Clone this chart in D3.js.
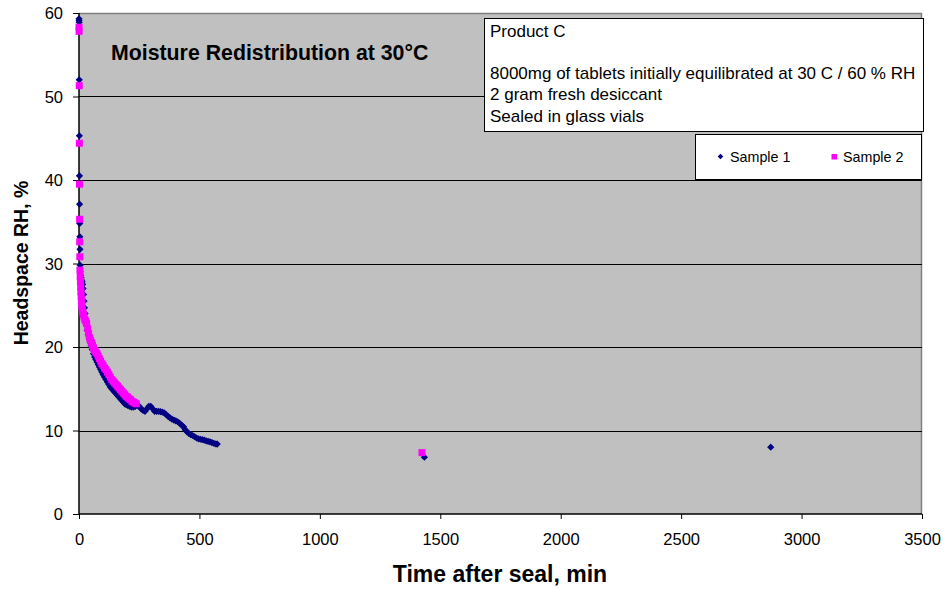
<!DOCTYPE html>
<html>
<head>
<meta charset="utf-8">
<script src="https://cdn.jsdelivr.net/npm/d3@7"></script>
<style>
  body { margin: 0; background: #fff; }
  svg text { font-family: "Liberation Sans", Arial, sans-serif; }
</style>
</head>
<body>
<svg id="chart" width="946" height="589"></svg>
<script>
// ---------- DATA ----------
const xTicks = [0, 500, 1000, 1500, 2000, 2500, 3000, 3500];
const yTicks = [0, 10, 20, 30, 40, 50, 60];
const gridValues = [10, 20, 30, 40, 50];

const seriesNames = ["Sample 1", "Sample 2"];

const sample1Time = [0, 0.3, 0.6, 1, 1.5, 2, 2.5, 3, 3.5, 4, 4.5, 5, 7, 9, 11, 13, 15, 17, 19, 21, 23, 25, 28, 31, 34, 38, 42, 46, 50, 55, 60, 65, 70, 75, 80, 85, 90, 95, 100, 106, 112, 118, 124, 130, 136, 142, 148, 154, 160, 166, 172, 178, 184, 190, 196, 202, 210, 218, 226, 234, 242, 250, 258, 266, 274, 282, 290, 298, 306, 314, 322, 330, 338, 346, 354, 362, 370, 378, 386, 394, 402, 410, 418, 426, 434, 441, 448, 456, 464, 472, 480, 488, 496, 504, 512, 520, 528, 536, 544, 552, 560, 568, 574, 1434, 2872];
const sample1RH = [59.3, 59.1, 58.9, 52.0, 45.3, 40.5, 37.1, 34.8, 33.2, 31.7, 29.8, 29.0, 28.6, 28.3, 28.0, 27.8, 27.5, 27.0, 26.3, 25.5, 24.7, 24.0, 23.2, 22.6, 22.0, 21.5, 21.0, 20.6, 20.2, 19.7, 19.2, 18.8, 18.5, 18.2, 17.9, 17.6, 17.3, 17.0, 16.7, 16.4, 16.1, 15.8, 15.5, 15.2, 15.0, 14.8, 14.6, 14.4, 14.2, 14.0, 13.8, 13.6, 13.4, 13.2, 13.1, 13.0, 12.9, 12.8, 12.8, 12.9, 13.0, 12.9, 12.6, 12.4, 12.3, 12.6, 12.9, 12.9, 12.6, 12.3, 12.3, 12.3, 12.25, 12.2, 12.1, 11.9, 11.7, 11.5, 11.35, 11.25, 11.15, 11.05, 10.85, 10.65, 10.45, 10.1, 9.85, 9.65, 9.5, 9.4, 9.25, 9.1, 9.0, 8.95, 8.9, 8.85, 8.75, 8.7, 8.65, 8.55, 8.45, 8.4, 8.38, 6.8, 8.0];

const sample2Time = [0, 0.4, 1, 1.5, 2, 2.5, 3, 3.5, 4, 5, 6, 7, 8, 9, 10, 11, 12, 14, 16, 18, 21, 24, 28, 32, 36, 40, 44, 48, 52, 56, 60, 65, 70, 75, 80, 85, 90, 95, 100, 106, 112, 118, 124, 130, 136, 142, 148, 154, 160, 166, 172, 178, 184, 190, 196, 202, 208, 214, 220, 226, 232, 238, 1424];
const sample2RH = [58.3, 57.8, 51.3, 44.4, 39.5, 35.3, 32.6, 30.8, 29.2, 28.4, 27.8, 27.2, 26.6, 26.1, 25.6, 25.2, 24.8, 24.4, 24.1, 23.9, 23.6, 23.3, 23.1, 22.8, 22.2, 21.6, 21.1, 20.8, 20.5, 20.2, 19.9, 19.6, 19.4, 19.2, 18.9, 18.6, 18.3, 18.0, 17.8, 17.5, 17.3, 17.0, 16.7, 16.4, 16.1, 15.9, 15.7, 15.5, 15.3, 15.1, 14.9, 14.7, 14.5, 14.3, 14.1, 14.0, 13.8, 13.7, 13.5, 13.4, 13.3, 13.2, 7.35];

const titleText = "Moisture Redistribution at 30°C";
const noteLines = ["Product C", "", "8000mg of tablets initially equilibrated at 30 C / 60 % RH", "2 gram fresh desiccant", "Sealed in glass vials"];
const xAxisTitle = "Time after seal, min";
const yAxisTitle = "Headspace RH, %";

// ---------- CHART ----------
const svg = d3.select("#chart");
const plot = { left: 79, right: 922, top: 13, bottom: 514 };

const x = d3.scaleLinear().domain([0, 3500]).range([plot.left, plot.right]);
const y = d3.scaleLinear().domain([0, 60]).range([plot.bottom, plot.top]);

// plot background
svg.append("rect")
  .attr("x", plot.left).attr("y", plot.top)
  .attr("width", plot.right - plot.left).attr("height", plot.bottom - plot.top)
  .attr("fill", "#C0C0C0");

// top & right border (grey)
svg.append("path")
  .attr("d", `M${plot.left},${plot.top + 0.5}H${plot.right - 0.5}V${plot.bottom}`)
  .attr("fill", "none").attr("stroke", "#808080").attr("stroke-width", 1.5);

// gridlines
svg.append("g").selectAll("line").data(gridValues).join("line")
  .attr("x1", plot.left).attr("x2", plot.right)
  .attr("y1", d => Math.round(y(d)) + 0.5).attr("y2", d => Math.round(y(d)) + 0.5)
  .attr("stroke", "#000").attr("stroke-width", 1);

// axes
const xAxis = svg.append("g")
  .attr("transform", `translate(0,${plot.bottom})`)
  .call(d3.axisBottom(x).tickValues(xTicks).tickFormat(d3.format("d")).tickSize(5).tickPadding(14));
const yAxis = svg.append("g")
  .attr("transform", `translate(${plot.left},0)`)
  .call(d3.axisLeft(y).tickValues(yTicks).tickFormat(d3.format("d")).tickSize(6).tickPadding(10));

[xAxis, yAxis].forEach(g => {
  g.select(".domain").attr("stroke", "#000").attr("stroke-width", 1.5);
  g.selectAll(".tick line").attr("stroke", "#000");
  g.selectAll(".tick text")
    .attr("fill", "#000")
    .style("font-family", "'Liberation Sans', Arial, sans-serif")
    .style("font-size", "16.5px");
});
xAxis.select(".domain").attr("d", `M${plot.left},0H${plot.right}`);
yAxis.select(".domain").attr("d", `M0,${plot.bottom}V${plot.top}`);
yAxis.selectAll(".tick text").attr("dy", "0.36em");

// series
const s1 = sample1Time.map((t, i) => ({ t, v: sample1RH[i] }));
const s2 = sample2Time.map((t, i) => ({ t, v: sample2RH[i] }));

const diamond = d3.symbol().type(d3.symbolSquare).size(26);
svg.append("g").selectAll("path").data(s1).join("path")
  .attr("d", diamond)
  .attr("transform", d => `translate(${x(d.t)},${y(d.v)}) rotate(45)`)
  .attr("fill", "#000080");

const sq = 7;
svg.append("g").selectAll("rect").data(s2).join("rect")
  .attr("x", d => x(d.t) - sq / 2).attr("y", d => y(d.v) - sq / 2)
  .attr("width", sq).attr("height", sq)
  .attr("fill", "#FF00FF");

// title inside plot
svg.append("text")
  .attr("x", 111).attr("y", 60)
  .style("font-size", "21.3px").style("font-weight", "bold")
  .attr("fill", "#000")
  .text(titleText);

// note box
const note = svg.append("g");
note.append("rect")
  .attr("x", 484.5).attr("y", 18.5).attr("width", 439).attr("height", 113)
  .attr("fill", "#fff").attr("stroke", "#000").attr("stroke-width", 1);
note.selectAll("text").data(noteLines).join("text")
  .attr("x", 490)
  .attr("y", (d, i) => 36.7 + i * 21.2)
  .style("font-size", "17px")
  .attr("fill", "#000")
  .text(d => d);

// legend
const leg = svg.append("g");
leg.append("rect")
  .attr("x", 695.5).attr("y", 134.5).attr("width", 226).attr("height", 45)
  .attr("fill", "#fff").attr("stroke", "#000").attr("stroke-width", 1);
leg.append("path")
  .attr("d", d3.symbol().type(d3.symbolSquare).size(16))
  .attr("transform", "translate(720.5,156.5) rotate(45)")
  .attr("fill", "#000080");
leg.append("text").attr("x", 730).attr("y", 161.5)
  .style("font-size", "14.3px").attr("fill", "#000").text(seriesNames[0]);
leg.append("rect")
  .attr("x", 831.5).attr("y", 154).attr("width", 5.5).attr("height", 5.5)
  .attr("fill", "#FF00FF");
leg.append("text").attr("x", 843).attr("y", 161.5)
  .style("font-size", "14.3px").attr("fill", "#000").text(seriesNames[1]);

// axis titles
svg.append("text")
  .attr("x", 500).attr("y", 582)
  .attr("text-anchor", "middle")
  .style("font-size", "23px").style("font-weight", "bold")
  .text(xAxisTitle);
svg.append("text")
  .attr("transform", "translate(28,263) rotate(-90)")
  .attr("text-anchor", "middle")
  .style("font-size", "19.5px").style("font-weight", "bold")
  .text(yAxisTitle);
</script>
</body>
</html>
